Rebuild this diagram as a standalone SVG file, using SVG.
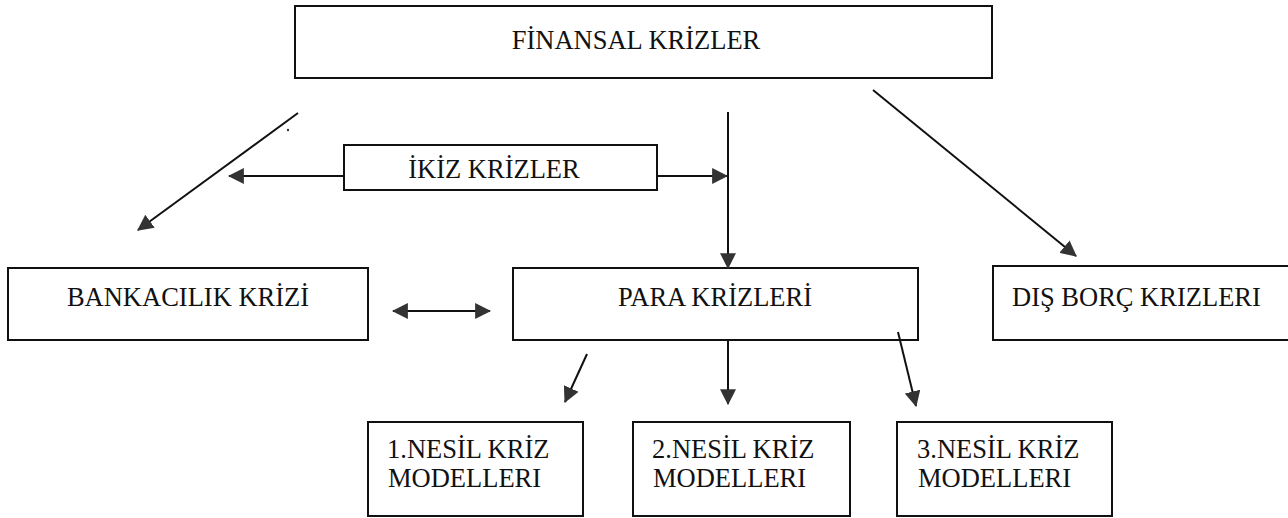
<svg xmlns="http://www.w3.org/2000/svg" width="1288" height="518" viewBox="0 0 1288 518">
<defs>
<style>
.box{fill:#fff;stroke:#111;stroke-width:2}
.t{font-family:"Liberation Serif","Times New Roman",serif;font-size:26.5px;fill:#111}
.ln{stroke:#111;stroke-width:2;fill:none}
</style>
<marker id="ahb" viewBox="0 0 14 14" refX="13" refY="7" markerWidth="16" markerHeight="16" markerUnits="userSpaceOnUse" orient="auto-start-reverse">
<path d="M0,0 L14,7 L0,14 z" fill="#333"/>
</marker>
</defs>
<rect width="1288" height="518" fill="#fff"/>
<g id="n-finansal">
<rect class="box" x="295" y="6" width="697" height="72"/>
<text class="t" x="636" y="49" text-anchor="middle" font-size="27">FİNANSAL KRİZLER</text>
</g>
<g id="n-ikiz">
<rect class="box" x="344" y="145" width="313" height="45"/>
<text class="t" x="494" y="178" text-anchor="middle" font-size="28">İKİZ KRİZLER</text>
</g>
<g id="n-bankacilik">
<rect class="box" x="8" y="268" width="360" height="72"/>
<text class="t" x="188" y="306" text-anchor="middle">BANKACILIK KRİZİ</text>
</g>
<g id="n-para">
<rect class="box" x="513" y="268" width="405" height="72"/>
<text class="t" x="715" y="306" text-anchor="middle" font-size="27">PARA KRİZLERİ</text>
</g>
<g id="n-disborc">
<rect class="box" x="993" y="266" width="299" height="74"/>
<text class="t" x="1012" y="306">DIŞ BORÇ KRIZLERI</text>
</g>
<g id="n-nesil1">
<rect class="box" x="368" y="422" width="215" height="94"/>
<text class="t" x="387" y="458" font-size="27">1.NESİL KRİZ</text>
<text class="t" x="388" y="487" font-size="27">MODELLERI</text>
</g>
<g id="n-nesil2">
<rect class="box" x="633" y="422" width="217" height="94"/>
<text class="t" x="652" y="458" font-size="27">2.NESİL KRİZ</text>
<text class="t" x="653" y="487" font-size="27">MODELLERI</text>
</g>
<g id="n-nesil3">
<rect class="box" x="897" y="422" width="215" height="94"/>
<text class="t" x="917" y="458" font-size="27">3.NESİL KRİZ</text>
<text class="t" x="918" y="487" font-size="27">MODELLERI</text>
</g>
<g id="connectors">
<line class="ln" x1="298" y1="113" x2="138" y2="230" marker-end="url(#ahb)"/>
<line class="ln" x1="728" y1="112" x2="728" y2="268" marker-end="url(#ahb)"/>
<line class="ln" x1="873" y1="90" x2="1076" y2="256" marker-end="url(#ahb)"/>
<line class="ln" x1="344" y1="176" x2="229" y2="176" marker-end="url(#ahb)"/>
<line class="ln" x1="657" y1="176" x2="727" y2="176" marker-end="url(#ahb)"/>
<line class="ln" x1="393" y1="311" x2="490" y2="311" marker-start="url(#ahb)" marker-end="url(#ahb)"/>
<line class="ln" x1="587" y1="354" x2="565" y2="402" marker-end="url(#ahb)"/>
<line class="ln" x1="728" y1="340" x2="728" y2="404" marker-end="url(#ahb)"/>
<line class="ln" x1="898" y1="332" x2="916" y2="406" marker-end="url(#ahb)"/>
<circle cx="288" cy="130" r="1.2" fill="#333"/>
</g>
</svg>
